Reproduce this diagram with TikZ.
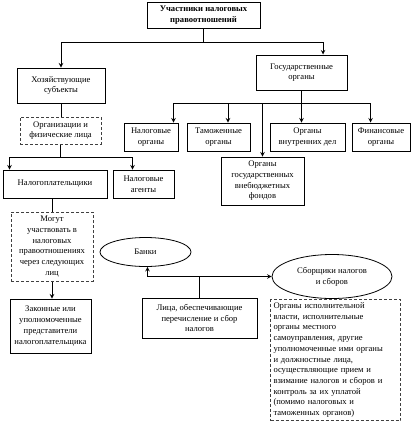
\documentclass[tikz,border=0pt]{standalone}
\usepackage{fontspec}
\setmainfont{Liberation Serif}
\usetikzlibrary{shapes.geometric}
\newcommand{\boxfont}{\fontsize{8.6}{10.7}\selectfont}
\begin{document}
\begin{tikzpicture}[>=stealth,x=1pt,y=-1pt,
	box/.style={draw,line width=1pt,align=center,inner sep=1pt,font=\boxfont},
	dbox/.style={box,draw=black!75,dash pattern=on 3pt off 2pt},
	oval/.style={ellipse,draw,line width=0.8pt,align=center,inner sep=0pt,font=\boxfont},
	link/.style={line width=1pt}]
	\useasboundingbox (0,0) rectangle (412,421);
	% верхний уровень
	\node[box,minimum width=113pt,minimum height=26pt,font=\boxfont\bfseries] (top) at (203.5,15) {Участники налоговых\\правоотношений};
	\node[box,minimum width=88pt,minimum height=35pt] (hoz) at (61,85.5) {Хозяйствующие\\субъекты};
	\node[box,minimum width=91pt,minimum height=35pt] (gos) at (301.5,72.5) {Государственные\\органы};
	% левая ветвь
	\node[dbox,minimum width=81pt,minimum height=27pt] (org) at (60.5,130.5) {Организации и\\физические лица};
	\node[box,minimum width=104pt,minimum height=28pt] (plat) at (55,184) {Налогоплательщики};
	\node[box,minimum width=61pt,minimum height=28pt] (agent) at (143.5,184) {Налоговые\\агенты};
	\node[dbox,minimum width=82pt,minimum height=69pt] (mogut) at (52,246.5) {Могут\\участвовать в\\налоговых\\правоотношениях\\через следующих\\лиц};
	\node[box,minimum width=81pt,minimum height=54pt] (zak) at (50.5,326) {Законные или\\уполномоченные\\представители\\налогоплательщика};
	% государственные органы
	\node[box,minimum width=54pt,minimum height=28pt] (nal) at (151,137) {Налоговые\\органы};
	\node[box,minimum width=63pt,minimum height=28pt] (tam) at (218.5,137) {Таможенные\\органы};
	\node[box,minimum width=75pt,minimum height=28pt] (ovd) at (307.5,137) {Органы\\внутренних дел};
	\node[box,minimum width=58pt,minimum height=28pt] (fin) at (381,137) {Финансовые\\органы};
	\node[box,minimum width=83pt,minimum height=48pt] (fond) at (262.5,181) {Органы\\государственных\\внебюджетных\\фондов};
	% сборщики
	\node[oval,minimum width=91pt,minimum height=29pt] (banki) at (145.5,252) {Банки};
	\node[oval,minimum width=120pt,minimum height=44pt] (sbor) at (332,276.5) {Сборщики налогов\\и сборов};
	\node[box,minimum width=115pt,minimum height=40pt] (lica) at (199.5,318) {Лица, обеспечивающие\\перечисление и сбор\\налогов};
	\node[dbox,align=left,anchor=north west,text width=124pt,minimum height=121pt,inner sep=3pt] (vlast) at (270,299) {Органы исполнительной\\власти, исполнительные\\органы местного\\самоуправления, другие\\уполномоченные ими органы\\и должностные лица,\\осуществляющие прием и\\взимание налогов и сборов и\\контроль за их уплатой\\(помимо налоговых и\\таможенных органов)};
	% связи
	\draw[link] (top.south) -- ++(0,14) coordinate (b1);
	\draw[link,->] (b1) -| (hoz.north);
	\draw[link,->] (b1) -| ([xshift=21.5pt]gos.north);
	\draw[link] (hoz.south) -- (hoz.south |- org.north);
	\draw[link] (org.south) -- ++(0,13) coordinate (b2);
	\draw[link,->] (b2) -| ([xshift=7pt]plat.north west);
	\draw[link,->] (b2) -| ([xshift=20pt]agent.north west);
	\draw[link] (gos.south) -- ++(0,13) coordinate (b3);
	\draw[link,->] (b3) -| ([xshift=-5pt]nal.north east);
	\draw[link,->] (b3) -| ([xshift=9.5pt]tam.north);
	\draw[link,->] (b3) -- (b3 |- ovd.north);
	\draw[link,->] (b3) -| ([xshift=19pt]fin.north west);
	\draw[link,->] (b3 -| fond.north) -- (fond.north);
	\draw[link] (mogut.north |- plat.south) -- (mogut.north);
	\draw[link,->] (mogut.south) -- (mogut.south |- zak.north);
	\draw[link,<->] ([xshift=2pt]banki.south) |- (sbor.west);
	\draw[link] (lica.north) -- (lica.north |- sbor.west);
\end{tikzpicture}
\end{document}
